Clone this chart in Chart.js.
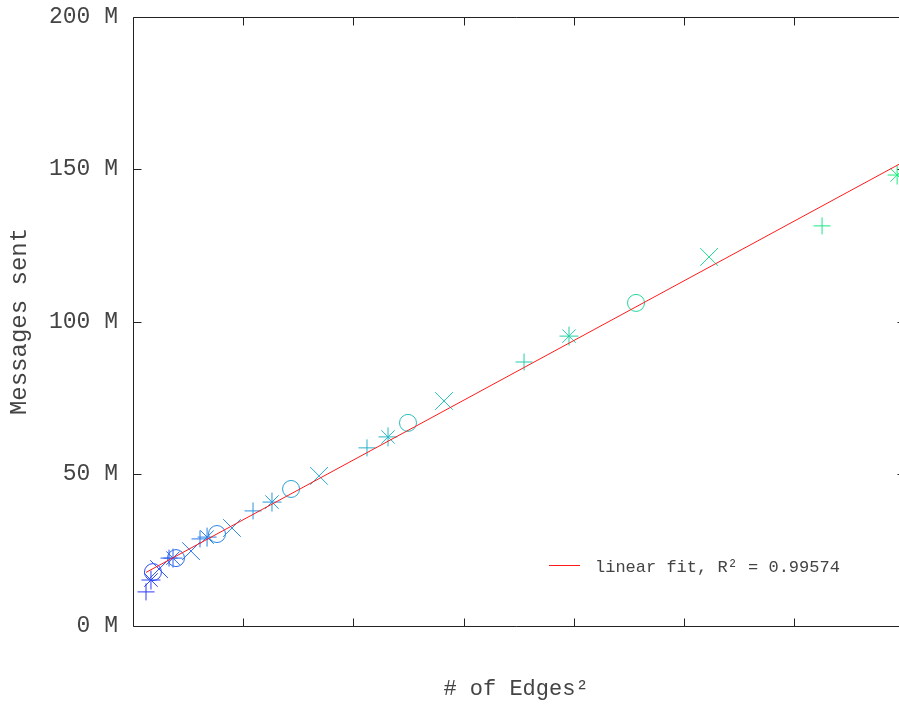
<!DOCTYPE html>
<html>
<head>
<meta charset="utf-8">
<script src="https://cdn.jsdelivr.net/npm/chart.js@4/dist/chart.umd.min.js"></script>
<style>
  html, body { margin: 0; padding: 0; background: #fff; overflow: hidden; }
  canvas { display: block; }
</style>
</head>
<body>
<canvas id="chart" width="899" height="704"></canvas>
<script>
// edges^2 (arbitrary units) vs. messages sent (millions)
const edgesSquared = [
  0.118, 0.163, 0.181, 0.236,
  0.327, 0.363, 0.390, 0.526,
  0.608, 0.672, 0.762, 0.898,
  1.089, 1.261, 1.434, 1.688,
  2.123, 2.314, 2.495, 2.822,
  3.548, 3.956, 4.564, 5.227,
  6.252, 6.933,
];
const messagesSent = [
  11.2, 15.1, 17.7, 18.7,
  22.3, 22.3, 22.3, 24.6,
  28.6, 29.2, 30.2, 32.2,
  37.8, 40.7, 45.0, 49.3,
  58.5, 62.1, 66.7, 73.9,
  86.7, 95.2, 106.1, 121.2,
  131.4, 148.1,
];
const markerCycle = ["cross", "star", "circle", "crossRot"];

// linear fit end points
const fitX = [0.118, 7];
const fitY = [17.6, 152.6];

const yTicks = [0, 50, 100, 150, 200];
const xTicks = [1, 2, 3, 4, 5, 6];
const xEnd = 7; // right border sits just past the visible edge

const fitLabel = "linear fit, R\u00B2 = 0.99574";
const fontFamily = "'Liberation Mono', 'DejaVu Sans Mono', monospace";
const textColor = "#444";
const tickLen = 8;

const markerRadius = { cross: 8.5, star: 9.5, circle: 8.5, crossRot: 12.5 };

// blue -> teal -> green palette along the point order
const palette = [
  [45, 55, 250],
  [40, 110, 240],
  [40, 150, 220],
  [40, 195, 185],
  [25, 235, 125],
];

function pointColor(i, n) {
  let t = (i / (n - 1)) * (palette.length - 1);
  let k = Math.min(Math.floor(t), palette.length - 2);
  let f = t - k;
  let c = palette[k].map((v, j) => Math.round(v + (palette[k + 1][j] - v) * f));
  return "rgb(" + c.join(",") + ")";
}

function getPoints() {
  let pts = [];
  for (let i = 0; i < edgesSquared.length; i++) {
    pts.push({ x: edgesSquared[i], y: messagesSent[i] });
  }
  return pts;
}

function getFit() {
  return fitX.map((x, i) => ({ x: x, y: fitY[i] }));
}

const n = edgesSquared.length;
const styles = edgesSquared.map((v, i) => markerCycle[i % markerCycle.length]);
const colors = edgesSquared.map((v, i) => pointColor(i, n));
const radii = styles.map((s) => markerRadius[s]);

// box around the plot with gnuplot-style inward ticks, plus the key
const frame = {
  id: "frame",
  afterDraw(chart) {
    const ctx = chart.ctx;
    const a = chart.chartArea;
    const sx = chart.scales.x;
    const sy = chart.scales.y;
    const L = Math.round(a.left) + 0.5;
    const R = Math.round(sx.getPixelForValue(xEnd)) + 0.5;
    const T = Math.round(a.top) + 0.5;
    const B = Math.round(a.bottom) + 0.5;

    ctx.save();
    ctx.strokeStyle = "#222";
    ctx.lineWidth = 1;
    ctx.beginPath();
    ctx.moveTo(R, T);
    ctx.lineTo(L, T);
    ctx.lineTo(L, B);
    ctx.lineTo(R, B);

    yTicks.forEach((v) => {
      let y = Math.round(sy.getPixelForValue(v)) + 0.5;
      ctx.moveTo(L, y);
      ctx.lineTo(L + tickLen, y);
      ctx.moveTo(R, y);
      ctx.lineTo(R - tickLen, y);
    });
    xTicks.forEach((v) => {
      let x = Math.round(sx.getPixelForValue(v)) + 0.5;
      ctx.moveTo(x, B);
      ctx.lineTo(x, B - tickLen);
      ctx.moveTo(x, T);
      ctx.lineTo(x, T + tickLen);
    });
    ctx.stroke();

    // key
    ctx.strokeStyle = "#ff1a1a";
    ctx.beginPath();
    ctx.moveTo(549, 565.5);
    ctx.lineTo(580, 565.5);
    ctx.stroke();
    ctx.fillStyle = textColor;
    ctx.font = "17px " + fontFamily;
    ctx.textBaseline = "middle";
    ctx.textAlign = "left";
    ctx.fillText(fitLabel, 595, 567);
    ctx.restore();
  },
};

const ctx = document.getElementById("chart");

new Chart(ctx, {
  type: "scatter",
  data: {
    datasets: [
      {
        label: "linear fit",
        data: getFit(),
        showLine: true,
        borderColor: "#ff1a1a",
        borderWidth: 1,
        pointRadius: 0,
        fill: false,
        tension: 0,
      },
      {
        label: "messages",
        data: getPoints(),
        showLine: false,
        clip: 12,
        pointStyle: styles,
        pointRadius: radii,
        pointBorderColor: colors,
        pointBackgroundColor: "rgba(0,0,0,0)",
        pointBorderWidth: 1,
      },
    ],
  },
  options: {
    responsive: false,
    animation: false,
    events: [],
    devicePixelRatio: 1,
    layout: {
      autoPadding: false,
      padding: { top: 17, right: 0, left: 0, bottom: 0 },
    },
    scales: {
      x: {
        type: "linear",
        min: 0,
        max: 6.95,
        grid: { display: false, drawTicks: false },
        border: { display: false },
        ticks: { display: false },
        title: {
          display: true,
          text: "# of Edges\u00B2",
          color: textColor,
          font: { family: fontFamily, size: 22 },
          padding: { top: 0, bottom: 2 },
        },
        afterFit(scale) {
          scale.height = 78;
          scale.paddingLeft = 0;
          scale.paddingRight = 0;
        },
      },
      y: {
        type: "linear",
        min: 0,
        max: 200,
        grid: { display: false, drawTicks: false },
        border: { display: false },
        afterBuildTicks(scale) {
          scale.ticks = yTicks.map((v) => ({ value: v }));
        },
        ticks: {
          padding: 15,
          color: textColor,
          font: { family: fontFamily, size: 23 },
          callback: function (val) {
            return val + " M";
          },
        },
        title: {
          display: true,
          text: "Messages sent",
          color: textColor,
          font: { family: fontFamily, size: 24 },
          padding: { top: 5, bottom: 0 },
        },
        afterFit(scale) {
          scale.width = 133;
          scale.paddingTop = 0;
          scale.paddingBottom = 0;
        },
      },
    },
    plugins: {
      legend: { display: false },
      tooltip: { enabled: false },
    },
  },
  plugins: [frame],
});
</script>
</body>
</html>
